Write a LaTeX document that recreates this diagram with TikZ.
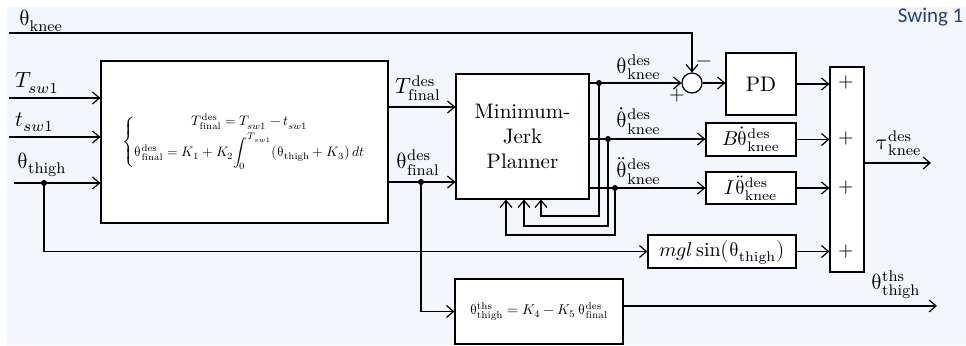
\documentclass[tikz,border=0pt]{standalone}
\usepackage{fontspec}
\usepackage{unicode-math}
\setmathfont{Latin Modern Math}
\newfontfamily\swingfont{Carlito}
\usetikzlibrary{arrows.meta,positioning,calc}
\definecolor{bgblue}{HTML}{F3F6FB}
\definecolor{swingblue}{HTML}{26436F}
\newcommand{\uth}{\symup{\theta}}
\newcommand{\thd}[2]{\uth^{\mathrm{#1}}_{\mathrm{#2}}}

\begin{document}
\begin{tikzpicture}[
  x=0.5pt, y=-0.5pt,
  line width=0.6pt,
  blk/.style={draw, fill=white, inner sep=0pt, align=center},
  arr/.style={-{Straight Barb[length=3.5pt,width=6pt]}},
  lab/.style={font=\fontsize{11}{13}\selectfont, inner sep=1pt},
  dot/.style={circle, fill, inner sep=0pt, minimum size=3pt},
  sgn/.style={font=\normalsize, inner sep=0pt}]
\fill[bgblue] (7,7) rectangle (966,345);
\useasboundingbox (0,0) rectangle (966,346);
% blocks
\node[blk, minimum width=143.5pt, minimum height=81pt] (law) at (244.5,142) {\resizebox{122pt}{!}{$\left\{\begin{array}{@{}c@{}} T^{\mathrm{des}}_{\mathrm{final}} = T_{sw1} - t_{sw1}\\[2pt] \thd{des}{final} = K_1 + K_2 {\displaystyle\int_0^{T_{sw1}}} \bigl(\uth_{\mathrm{thigh}} + K_3\bigr)\, dt \end{array}\right.$}};
\node[blk, minimum width=66.5pt, minimum height=62.5pt, font=\fontsize{10.5}{12.5}\selectfont] (planner) at (522.5,136.5) {Minimum-\\Jerk\\Planner};
\node[circle, draw, fill=white, minimum size=10pt, inner sep=0pt] (sum) at (692,83) {};
\node[blk, minimum width=35pt, minimum height=31pt, font=\fontsize{10.5}{12.5}\selectfont] (pd) at (761,84) {PD};
\node[blk, minimum width=45pt, minimum height=16.5pt] (bd) at (751,139.5) {$B\dot{\uth}^{\mathrm{des}}_{\mathrm{knee}}$};
\node[blk, minimum width=45pt, minimum height=16pt] (id) at (751,188) {$I\ddot{\uth}^{\mathrm{des}}_{\mathrm{knee}}$};
\node[blk, minimum width=74pt, minimum height=16.5pt] (grav) at (722,251.5) {$mgl\sin\bigl(\uth_{\mathrm{thigh}}\bigr)$};
\node[blk, minimum width=17pt, minimum height=102.5pt] (sumbox) at (847,169.5) {};
\node[blk, minimum width=84pt, minimum height=32.5pt] (thsbox) at (539,311.5) {\resizebox{69pt}{!}{$\thd{ths}{thigh} = K_4 - K_5\,\thd{des}{final}$}};
% inputs
\coordinate (kin) at (9,33);
\coordinate (inT) at (9,98);
\coordinate (int) at (9,137);
\coordinate (inth) at (14,183);
\node[dot] (dth) at (44,183) {};
\draw[arr] (kin) -| (sum.north);
\draw[arr] (inT) -- (inT -| law.west);
\draw[arr] (int) -- (int -| law.west);
\draw[arr] (inth) -- (inth -| law.west);
\draw[arr] (dth.center) |- (grav.west);
\node[lab] (lkn) at (41,21) {$\uth_{\mathrm{knee}}$};
\node[lab] (lT) at (37,83) {$T_{sw1}$};
\node[lab] (lt) at (35,122) {$t_{sw1}$};
\node[lab] (lth) at (42,165) {$\uth_{\mathrm{thigh}}$};
% law -> planner
\coordinate (tfo) at (388,107);
\coordinate (qfo) at (388,182);
\node[dot] (dfin) at (421,182) {};
\draw[arr] (tfo) -- (tfo -| planner.west);
\draw[arr] (qfo) -- (qfo -| planner.west);
\draw[arr] (dfin.center) |- (thsbox.west);
\node[lab] (ltf) at (418,88) {$T^{\mathrm{des}}_{\mathrm{final}}$};
\node[lab] (lqf) at (418,163) {$\thd{des}{final}$};
% planner outputs and feedback
\node[dot] (dq) at (599,83) {};
\node[dot] (dqd) at (608,139) {};
\node[dot] (dqdd) at (615,188) {};
\draw[arr] (dq -| planner.east) -- (dq -| sum.west);
\draw[arr] (dqd -| planner.east) -- (dqd -| bd.west);
\draw[arr] (dqdd -| planner.east) -- (dqdd -| id.west);
\draw[arr] (dq.center) -- ++(0,133) -| ([xshift=9.25pt]planner.south);
\draw[arr] (dqd.center) -- ++(0,87) -| ([xshift=0.75pt]planner.south);
\draw[arr] (dqdd.center) -- ++(0,47) -| ([xshift=-8.25pt]planner.south);
\node[lab, anchor=west] (lq) at (614,67) {$\thd{des}{knee}$};
\node[lab, anchor=west] (lqd) at (614,121) {$\dot{\uth}^{\mathrm{des}}_{\mathrm{knee}}$};
\node[lab, anchor=west] (lqdd) at (614,171) {$\ddot{\uth}^{\mathrm{des}}_{\mathrm{knee}}$};
% summing
\node[sgn] (mn) at (704,64) {$-$};
\node[sgn] (pl) at (677,96) {$+$};
\draw[arr] (sum.east) -- (sum.east -| pd.west);
\draw[arr] (pd.east) -- (pd.east -| sumbox.west);
\draw[arr] (bd.east) -- (bd.east -| sumbox.west);
\draw[arr] (id.east) -- (id.east -| sumbox.west);
\draw[arr] (grav.east) -- (grav.east -| sumbox.west);
\node[sgn] (p1) at (846,83) {$+$};
\node[sgn] (p2) at (846,139) {$+$};
\node[sgn] (p3) at (846,188) {$+$};
\node[sgn] (p4) at (846,252) {$+$};
% outputs
\coordinate (tauout) at (931,163);
\coordinate (thsout) at (937,306);
\draw[arr] (tauout -| sumbox.east) -- (tauout);
\draw[arr] (thsout -| thsbox.east) -- (thsout);
\node[lab] (ltau) at (899,143) {$\symup{\tau}^{\mathrm{des}}_{\mathrm{knee}}$};
\node[lab] (lths) at (896,285) {$\thd{ths}{thigh}$};
\node[anchor=east, text=swingblue, font=\swingfont\fontsize{10.5}{12}\selectfont, inner sep=0pt] (swing) at (964,17) {Swing 1};
\end{tikzpicture}
\end{document}
